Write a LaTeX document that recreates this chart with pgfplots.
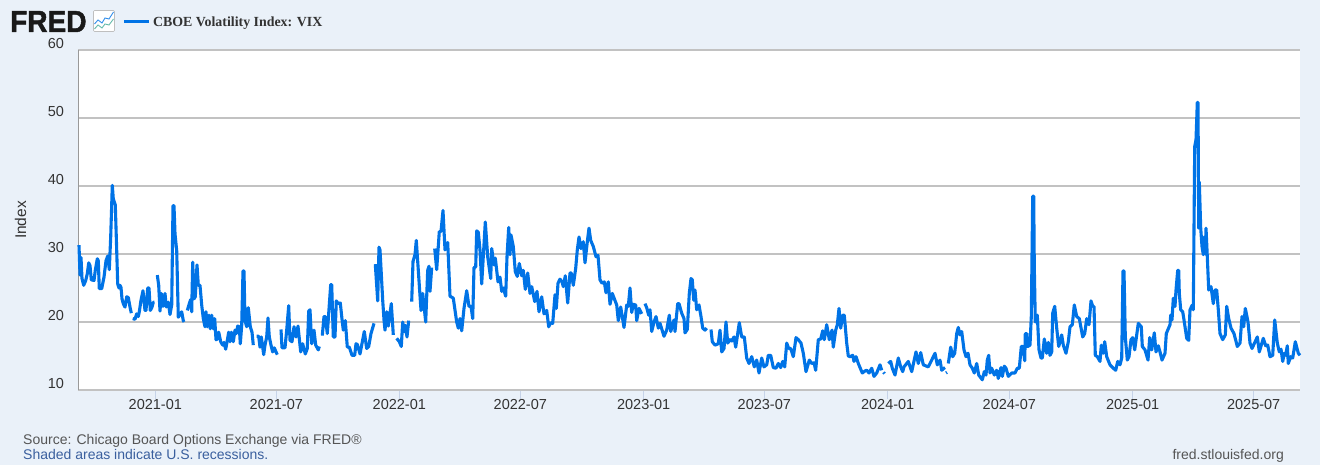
\documentclass[border=0pt]{standalone}
\usepackage{pgfplots}
\usepackage{fontspec}
\pgfplotsset{compat=1.18}
\setmainfont{Liberation Sans}
\newfontfamily\serifb{Liberation Serif}
\newfontfamily\heavy[UprightFont=* Bold, FakeBold=1.5]{Liberation Sans}
\definecolor{bgc}{HTML}{EAF1F9}
\definecolor{vix}{HTML}{0073E6}
\definecolor{gridc}{HTML}{C2C2C2}
\definecolor{tickc}{HTML}{C6D3E8}
\definecolor{txt}{HTML}{333333}
\definecolor{srcc}{HTML}{555555}
\definecolor{linkc}{HTML}{3A5F9E}
\begin{document}
\begin{tikzpicture}[x=1pt,y=1pt]
\fill[bgc] (0,0) rectangle (1320,465);
\begin{axis}[
  at={(78.5pt,75pt)}, anchor=south west,
  width=1221.5pt, height=340pt, scale only axis,
  xmin=78.5, xmax=1300, ymin=10, ymax=60,
  axis lines=left, axis line style={-, draw=gridc, line width=1.2pt},
  y axis line style={draw=black!40},
  axis background/.style={fill=white},
  ytick={10,20,30,40,50,60},
  xtick={155.3,276.3,399.3,520.3,643.7,764.3,887.7,1009.3,1132.7,1253.7},
  xticklabels={2021-01,2021-07,2022-01,2022-07,2023-01,2023-07,2024-01,2024-07,2025-01,2025-07},
  ymajorgrids, grid style={draw=gridc, line width=1.6pt},
  tick align=outside,
  x tick style={draw=tickc, line width=1pt}, y tick style={draw=none},
  major tick length=9pt,
  /pgf/number format/assume math mode=true,
  tick label style={font=\fontsize{14.5}{16}\selectfont, text=txt},
  xticklabel style={yshift=3pt},
  yticklabel style={yshift=6.5pt, xshift=-2pt},
  ylabel={Index}, ylabel style={font=\fontsize{15.5}{17}\selectfont, text=txt, at={(axis description cs:-0.0455,0.5)}, anchor=south, rotate=0, yshift=-7pt, xshift=0pt},
  unbounded coords=jump,
  clip=false,
  legend style={draw=none, fill=none, at={(44.5pt,368pt)}, anchor=west, inner sep=0pt, outer sep=0pt, font=\serifb\bfseries\fontsize{13.9}{15}\selectfont\color{txt}, legend cell align=left},
  legend image code/.code={\draw[vix, line width=3pt] (-2pt,0pt) -- (23pt,0pt);},
]
\addplot[vix, line width=3.1pt, line join=round, line cap=butt] coordinates {
(79,31.3)(80,26.9)(81,29.5)(82,26.4)(83.7,25.4)(85.7,26.1)(87.3,27.1)(88.7,28.7)(90,28.3)(91.3,26.2)(94,26.1)(95.3,27.6)(97.3,29.3)(98.3,29)(99.3,24.9)(101.7,24.9)(104,26.6)(106,29)(107.7,29.7)(109.3,27.7)(110.7,32.5)(112.3,40.1)(113.3,38.1)(115.3,37.2)(116.3,32.5)(117.7,25.6)(119,25)(120,25.4)(121,25.1)(122,23.4)(123.3,22.7)(125,22.2)(126.7,23.7)(128.3,23.6)(130,22.2)(131.3,21.3)(132,nan)
(132.7,20.5)(135,20.4)(136.7,21.2)(138.3,20.8)(139.3,21.5)(141,23.2)(143,24.6)(145,21.7)(146,21.7)(147.7,25)(149,25)(150.3,21.7)(152,22.2)(153.3,22.9)(154.3,22.9)(156,nan)
(157.3,26.9)(158.7,25.4)(160,21.6)(161.3,24.2)(163,22.3)(165,24.2)(166.3,22.2)(168.3,22.9)(170,21.1)(171.7,22.5)(173,37.1)(174,37.1)(175,33)(176.7,30.5)(178.3,20.7)(181.7,21.5)(183.3,20.2)(184,20)(185,nan)
(187.3,21.7)(189.3,22.7)(190.7,23.3)(191.7,21.5)(192.7,28.8)(194,23.4)(195.3,23.7)(197,28.4)(198.3,25.4)(200,25.4)(201.7,22.5)(203.3,20.5)(205,19.3)(206,21.5)(207.3,19.3)(209,21)(210.3,19)(211.7,21)(213.3,19)(214.7,20.5)(216,17.4)(217.3,17.5)(218.7,18.5)(220.7,17.1)(222.7,16.6)(224,17)(225.7,16)(227.3,17.3)(228.7,18.5)(230,17.1)(231.3,18.5)(233.3,17.1)(235,18.8)(236.3,18.3)(237.7,19.4)(239.3,19.3)(240.3,16.8)(241.7,19.5)(243,27.5)(244,27.5)(245,20.2)(246.7,19.3)(248.3,22.1)(250.3,19.3)(252,18.5)(253.3,16.6)(255,nan)
(256.7,17.9)(258.7,17.9)(260,16.3)(261.3,17.8)(263.7,15.2)(265,16.6)(266.7,17.8)(268,20.6)(269.3,17.8)(271,16.6)(272.7,15.6)(274.3,16.2)(276,15.6)(277.3,15.2)(279,nan)
(281,18.9)(282,16.2)(285,16.2)(286.7,18.8)(288.7,22.4)(290,17.3)(292,17.1)(294,19.3)(296,17.8)(298,19.4)(300.7,15.6)(302.7,16.8)(305.3,15.3)(307.3,16.1)(308.7,21.6)(310,21.8)(311.7,16.8)(314,18.8)(315.7,16.6)(318.3,15.9)(319.3,16.4)(321,nan)
(322.3,18)(324,20.8)(325.3,20.8)(327.3,18.3)(330.7,25.5)(331.7,25.5)(333.3,17.8)(335,17.8)(336.3,23.1)(338.3,22.7)(340.3,22.8)(342.3,20)(343.3,18.8)(345.3,20.2)(347.3,16.3)(349.3,16.3)(352,15.1)(354.7,15.1)(356,16.8)(357.3,16.7)(360,15.3)(361.7,16.6)(364.3,18.6)(366.7,16.1)(368.7,16.4)(371,18.3)(374,19.8)(374.7,nan)
(375.3,28.5)(377.7,23.1)(379,31)(380,30.6)(381,27.9)(382.7,23.2)(384,20.3)(385,18.8)(386.7,21.5)(388.3,19.4)(391.3,22.7)(393.3,18.1)(395,nan)
(396.7,17.6)(399.3,17.1)(401.3,16.4)(402.7,20)(404.3,18.6)(405.3,19.5)(407,17.8)(408.7,20.2)(410,nan)
(411.7,23)(413,28.9)(415,29.9)(416.3,32)(418.3,27.6)(421,21.7)(422.7,24.2)(425.7,20)(427.7,27.6)(429,28.2)(430,24.5)(431.7,28)(433,nan)
(434.7,30.8)(436.7,27.7)(439.3,33.3)(441,33.3)(443,36.4)(445,30.6)(447.7,31.7)(450,23.8)(453.3,23.5)(456.7,20)(458.3,19.1)(460,20.5)(461.7,18.7)(464,22)(466.7,24.6)(469,22.3)(471,22.3)(472.7,20.5)(474,28)(475.7,28.1)(476.7,33.4)(478.3,33.2)(480,30.6)(481.7,25.6)(485.3,34.7)(487.7,29.6)(490.7,26.4)(491.7,30.8)(494,28.4)(495.3,29.4)(498,25.9)(500,26.6)(501.7,24.5)(503.3,25)(505.7,23.8)(507,29.6)(508.7,33.9)(510,29.9)(511,32.8)(513.3,31.1)(515.3,27.4)(517.3,26.7)(519.3,28.6)(521.7,26.8)(523.3,27.6)(525.3,24.8)(527.7,27.2)(530,24.2)(531.7,25.2)(534.7,23)(537,24.5)(539,21.5)(541.7,23.7)(544,21.2)(546.7,21.7)(548.7,19.3)(550.7,19.9)(552.7,19.8)(555,24)(556.3,22)(558,25.7)(560,26.3)(562,25.9)(563.3,25.2)(565.3,26.8)(567.7,22.8)(570,27.2)(571.3,27.2)(573.3,25.4)(575.7,27.9)(577.3,30.6)(579,32.5)(581,30.8)(583.3,31.8)(585,28.7)(587.3,31.8)(589,33.8)(590.7,32)(593.3,31.1)(596,29.6)(598,29.8)(600,26.2)(602,25.7)(604.3,25.9)(606,24.3)(608.3,25.9)(610,22.6)(612.3,24.2)(616.7,22.5)(618.3,20.2)(620.7,22.2)(624,19.2)(626.7,22.5)(628.3,22.3)(630,25)(631.7,21.4)(633.3,22.6)(635.7,22.5)(636.7,20.2)(639,22)(641.7,21.2)(643.5,nan)
(645,22.7)(646.7,22.1)(648.7,21)(650,21.8)(651.7,18.6)(654,20)(656,20.8)(658.3,19.1)(660,19.8)(664,17.9)(666.7,18.8)(669.3,21)(670.7,18.6)(674,20.3)(675,18.6)(677.7,22.7)(679,22.7)(681.7,21.3)(684,20.5)(685,18.4)(687.3,18.9)(689.3,24.2)(691,26.4)(692.3,26.2)(693.7,23.2)(695,24.7)(696.7,21.8)(699,22.5)(701,20.8)(702.7,19.1)(705,18.8)(706.7,19.1)(709,nan)
(711,18.9)(712.3,17.1)(715,16.6)(718.3,16.8)(720,18.8)(721.7,15.6)(724,16.1)(726,20)(727.7,16.9)(730,17.4)(731.7,17.2)(734,17.8)(735.7,16.3)(739.3,19.9)(741.7,17.8)(744.3,17.8)(746.7,14.7)(749,13.9)(751.7,14.9)(754.3,13.4)(756.7,14.4)(759,12.5)(761.7,14.7)(764,13.4)(766.7,13.7)(768.3,15.1)(770.7,15.1)(773.3,13.3)(776,13.2)(778.3,13.9)(780.7,13.3)(782.7,14.2)(784.7,13.4)(786.7,16.9)(788.7,16.1)(790.7,16.1)(793.3,14.9)(796,17.7)(798.3,17.4)(801,16.9)(803.3,15.4)(806,12.7)(809.3,14.4)(811.7,13.9)(814,14)(815.7,12.9)(818.3,17.4)(820.7,17.5)(822.7,18.7)(824.3,17.4)(826.7,19.6)(829.3,17.4)(832,18.8)(833.3,16.3)(835.7,18.8)(837.3,19.6)(839,22)(840.7,19.1)(842.7,21)(844.3,21)(846.7,16.9)(848.3,15)(850,14.9)(852.7,15.1)(854,14.2)(856,14.9)(858.3,13.9)(862.3,12.5)(865,12.8)(866.7,12.9)(869,12.5)(871.7,13.2)(874,12)(876.7,12.5)(880,13.7)(881.7,12.9)(882.7,nan)
(883.5,12.6)(884.5,12.4)(886,nan)
(888.3,13.9)(890.7,14.2)(892.3,13.2)(895,12.2)(898.3,14.7)(900.7,13.4)(902.7,12.7)(904,13.4)(908.3,14.2)(911.7,12.7)(916,15.6)(918.3,13.9)(920.7,15.5)(923.3,13.7)(928.3,13.4)(931.7,14.4)(935,15.4)(937.3,13.7)(940,14.4)(941.7,12.9)(944,13.2)(945,13.3)(945.5,nan)
(946,12.5)(947,12.6)(947.5,nan)
(948.3,13.9)(950.7,16.3)(952.7,14.9)(954.7,15.4)(956.7,18.3)(958.3,19.2)(960,18.1)(961.7,18.6)(964,15.9)(966,14.9)(968,15.4)(970,13.7)(972.3,13.2)(974.3,12.5)(976.7,13.9)(978.7,12.2)(982.3,11.5)(984.3,12.7)(986,12.2)(987.3,14.4)(988.7,15.1)(990,12.5)(991.7,13.2)(994.3,12.2)(996.7,12.9)(998.3,11.7)(1001,13.3)(1002.3,12)(1004.3,13.5)(1006,13.2)(1008.3,12)(1011.7,12.5)(1015,12.5)(1017.3,13.2)(1019.3,13.2)(1021.3,16.4)(1023,16.4)(1024.7,14.3)(1025.3,18.3)(1026.7,18.3)(1027.7,16.4)(1030,16.6)(1031.3,20.8)(1032.7,38.5)(1033.7,38.5)(1034.3,28.1)(1035.3,20)(1037.3,21)(1039,15.9)(1041,14.7)(1042.3,14.7)(1044.3,17.5)(1046.7,15.4)(1048.3,17)(1050,15.1)(1051.7,15.6)(1052.7,21.3)(1054.7,22.3)(1056.7,19.1)(1058.7,16.4)(1061.7,18.1)(1063.3,16.6)(1066,15.4)(1068.3,17.1)(1070,19.3)(1072.3,19.6)(1074.3,22.5)(1076.7,20.8)(1079.3,20.5)(1082.7,17.8)(1084.7,18.3)(1086.7,20.5)(1089,19.6)(1091,23.1)(1092.7,22.3)(1094,22.3)(1095.3,15.1)(1097.3,14.9)(1100,14.2)(1101.3,16.6)(1103.3,15.4)(1104.7,17.1)(1106.7,14.9)(1110,13.7)(1113.3,13.2)(1115.7,12.9)(1117.7,14.2)(1120,13.7)(1121.7,14.7)(1123,27.5)(1124,27.5)(1125.3,17.8)(1127.3,14.4)(1129,14.9)(1131,17.4)(1132.7,17.7)(1134.7,15.9)(1136.7,18.1)(1138.3,19.8)(1141.3,19.3)(1142.3,16.4)(1145,15.9)(1148,14.4)(1149.7,17.7)(1151.7,15.9)(1154.3,18.4)(1156,15.6)(1158.3,16.5)(1160,15.6)(1162,14.4)(1165,15.4)(1166.3,18.3)(1170,19.6)(1170.7,21)(1172,20.3)(1173.3,23.5)(1175,22.3)(1176,24.7)(1177.7,27.6)(1178.7,27.6)(1179.3,24.2)(1180.7,21.8)(1182.7,21.5)(1184,20.3)(1186.7,17.6)(1188.7,17.3)(1190,21.8)(1192.3,22.5)(1193.3,21.8)(1194.7,45.8)(1196,46.8)(1197.3,52.3)(1198,52.3)(1198.7,33.8)(1199.3,40.6)(1200.7,33.8)(1202,31.1)(1203.3,29.9)(1204.3,32.5)(1205.3,30)(1206,33.8)(1207.3,29.6)(1208.7,24.7)(1211,25.2)(1213.3,22.7)(1215,24.7)(1216.7,24.7)(1218.3,21.8)(1220,18.3)(1222.7,17.4)(1225.3,18.1)(1226.7,22.3)(1228.7,20.5)(1231,19.1)(1234,18.3)(1237.3,16.4)(1240,16.9)(1242,20.8)(1243.7,19.3)(1245.3,22)(1248,20)(1250,16.9)(1252,16.1)(1257.3,17.8)(1259.3,15.6)(1263.3,17.6)(1265.7,16.5)(1267.7,16.6)(1270,14.9)(1272.7,15.1)(1274.7,20.3)(1277.3,16.9)(1279.3,15.6)(1281,16)(1282.7,14.2)(1284.3,15.4)(1285.7,15.1)(1287.3,16.5)(1288.3,13.9)(1290.7,14.9)(1292.7,14.7)(1295.3,17.1)(1298.3,15.4)(1300,15.1)
};
\addlegendentry{CBOE Volatility Index: VIX}
\end{axis}
% header logo
\node[anchor=base west, inner sep=0pt, text=black!90, xscale=.92] at (10,433) {\heavy\fontsize{30.5}{31}\selectfont FRED};
\draw[black!25, fill=white, rounded corners=1pt, line width=.6pt] (93.5,433.5) rectangle (114.5,454.5);
\draw[vix!80, line width=.9pt] (94.5,441) -- (98,445) -- (102,442) -- (105,447) -- (109,446) -- (113.5,453);
\draw[green!55!blue!60, line width=.9pt] (94.5,436) -- (98,440) -- (102,437) -- (105,441) -- (109,440) -- (113.5,446);
% footer
\node[anchor=base west, inner sep=0pt, text=srcc] at (23,20) {\fontsize{14}{16}\selectfont Source: Chicago Board Options Exchange via FRED®};
\node[anchor=base west, inner sep=0pt, text=linkc] at (23,5) {\fontsize{14}{16}\selectfont Shaded areas indicate U.S. recessions.};
\node[anchor=base east, inner sep=0pt, text=srcc] at (1284,5) {\fontsize{14}{16}\selectfont fred.stlouisfed.org};
\end{tikzpicture}
\end{document}
